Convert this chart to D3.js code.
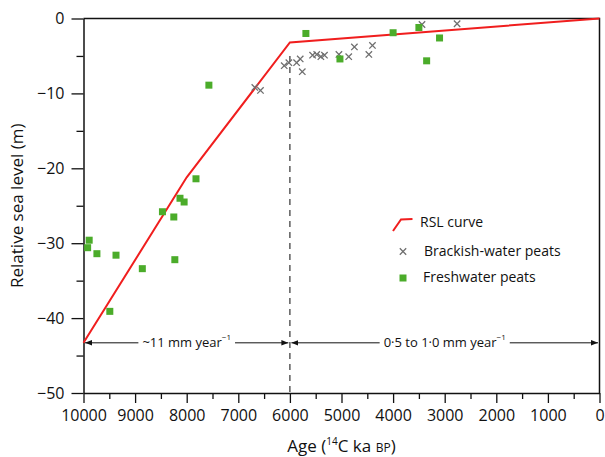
<!DOCTYPE html>
<html>
<head>
<meta charset="utf-8">
<script src="https://cdn.jsdelivr.net/npm/d3@7"></script>
<style>
  body { margin: 0; background: #fff; }
  svg text { font-family: "Open Sans", "Noto Sans", sans-serif; fill: #111; }
</style>
</head>
<body>
<div id="chart"></div>
<script>
// RSL curve vertices
const rslAge = [10000, 8000, 6000, 0];
const rslLevel = [-43.3, -21.2, -3.2, 0];

// Brackish-water peats (crosses)
const brackishAge = [6680, 6570, 6110, 6020, 5870, 5800, 5760, 5560, 5480, 5400, 5330, 5050, 4860, 4750, 4470, 4400, 3440, 2760];
const brackishRsl = [-9.2, -9.6, -6.3, -5.9, -5.9, -5.4, -7.1, -4.9, -4.8, -5.1, -4.9, -4.8, -5.1, -3.8, -4.8, -3.6, -0.8, -0.7];

// Freshwater peats (squares)
const freshAge = [9890, 9920, 9740, 9370, 8860, 8230, 9490, 8470, 8250, 8130, 8050, 7820, 7570, 5690, 5030, 4000, 3500, 3100, 3350];
const freshRsl = [-29.6, -30.6, -31.4, -31.6, -33.4, -32.2, -39.1, -25.8, -26.5, -24.0, -24.5, -21.4, -8.9, -2.0, -5.4, -1.9, -1.2, -2.6, -5.65];

const xMajor = [10000, 9000, 8000, 7000, 6000, 5000, 4000, 3000, 2000, 1000, 0];
const xMinor = [9500, 8500, 7500, 6500, 5500, 4500, 3500, 2500, 1500, 500];
const yMajor = [0, -10, -20, -30, -40, -50];
const yMinor = [-5, -15, -25, -35, -45];

const W = 605, H = 457;
const margin = { top: 18.5, right: 5.5, bottom: 64, left: 83.5 };
const width = W - margin.left - margin.right;
const height = H - margin.top - margin.bottom;

const svg = d3.select("#chart").append("svg")
  .attr("width", W)
  .attr("height", H);

const defs = svg.append("defs");
defs.append("marker")
  .attr("id", "arrow")
  .attr("viewBox", "0 0 10 10")
  .attr("refX", 10).attr("refY", 5)
  .attr("markerWidth", 7).attr("markerHeight", 7)
  .attr("markerUnits", "userSpaceOnUse")
  .attr("orient", "auto-start-reverse")
  .append("path")
  .attr("d", "M0,1 L10,5 L0,9 Z")
  .attr("fill", "#111");

const g = svg.append("g").attr("transform", `translate(${margin.left},${margin.top})`);

const x = d3.scaleLinear().domain([10000, 0]).range([0, width]);
const y = d3.scaleLinear().domain([-50, 0]).range([height, 0]);

const minus = s => String(s).replace("-", "\u2212");

// minor ticks
g.append("g")
  .attr("transform", `translate(0,${height})`)
  .call(d3.axisBottom(x).tickValues(xMinor).tickSize(6).tickFormat(""))
  .call(a => a.select(".domain").remove());
g.append("g")
  .call(d3.axisLeft(y).tickValues(yMinor).tickSize(7).tickFormat(""))
  .call(a => a.select(".domain").remove());

// major ticks with labels
const xAxis = g.append("g")
  .attr("transform", `translate(0,${height})`)
  .call(d3.axisBottom(x).tickValues(xMajor).tickSize(10).tickSizeOuter(0).tickPadding(7).tickFormat(d => d));
xAxis.selectAll("text").attr("font-size", 16).attr("font-family", null);

const yAxis = g.append("g")
  .call(d3.axisLeft(y).tickValues(yMajor).tickSize(12).tickSizeOuter(0).tickPadding(7).tickFormat(minus));
yAxis.selectAll("text").attr("font-size", 16).attr("font-family", null);

g.selectAll(".tick line").attr("stroke", "#111").attr("stroke-width", 1.3);
g.selectAll(".domain").attr("stroke", "#111").attr("stroke-width", 1.5);

// frame top and right
g.append("path")
  .attr("d", `M0,0 H${width} V${height}`)
  .attr("fill", "none")
  .attr("stroke", "#111")
  .attr("stroke-width", 1.5);

// dashed divider at 6000
g.append("line")
  .attr("x1", x(6000)).attr("x2", x(6000))
  .attr("y1", y(-5)).attr("y2", height)
  .attr("stroke", "#333")
  .attr("stroke-width", 1.2)
  .attr("stroke-dasharray", "6,5");

// rate arrows
const arrowY = y(-43.3);
const rates = [
  { from: 10000, to: 6000, label: "~11 mm year", pad: 1.5 },
  { from: 6000, to: 0, label: "0\u00b75 to 1\u00b70 mm year", pad: 1.5 }
];
rates.forEach(r => {
  const x1 = x(r.from) + r.pad, x2 = x(r.to) - r.pad;
  g.append("line")
    .attr("x1", x1).attr("x2", x2)
    .attr("y1", arrowY).attr("y2", arrowY)
    .attr("stroke", "#111")
    .attr("stroke-width", 1)
    .attr("marker-start", "url(#arrow)")
    .attr("marker-end", "url(#arrow)");
  const bg = g.append("rect").attr("fill", "#fff");
  const t = g.append("text")
    .attr("x", (x1 + x2) / 2)
    .attr("y", arrowY + 4.5)
    .attr("text-anchor", "middle")
    .attr("font-size", 13);
  t.append("tspan").text(r.label);
  t.append("tspan").attr("font-size", 8).attr("dy", -7).text("\u22121");
  const bb = t.node().getBBox();
  bg.attr("x", bb.x - 4).attr("y", arrowY - 3).attr("width", bb.width + 8).attr("height", 6);
});

// RSL curve
const rsl = rslAge.map((a, i) => [a, rslLevel[i]]);
g.append("path")
  .datum(rsl)
  .attr("fill", "none")
  .attr("stroke", "#f01e1e")
  .attr("stroke-width", 2)
  .attr("d", d3.line().x(d => x(d[0])).y(d => y(d[1])));

// brackish crosses
const s = 3.2;
g.append("g")
  .selectAll("path")
  .data(brackishAge.map((a, i) => [a, brackishRsl[i]]))
  .enter()
  .append("path")
  .attr("d", d => {
    const cx = x(d[0]), cy = y(d[1]);
    return `M${cx - s},${cy - s}L${cx + s},${cy + s}M${cx - s},${cy + s}L${cx + s},${cy - s}`;
  })
  .attr("stroke", "#6f6f6f")
  .attr("stroke-width", 1.3);

// freshwater squares
const sq = 7;
g.append("g")
  .selectAll("rect")
  .data(freshAge.map((a, i) => [a, freshRsl[i]]))
  .enter()
  .append("rect")
  .attr("x", d => x(d[0]) - sq / 2)
  .attr("y", d => y(d[1]) - sq / 2)
  .attr("width", sq)
  .attr("height", sq)
  .attr("fill", "#4bac2a");

// axis titles
svg.append("text")
  .attr("transform", `translate(23,${margin.top + height / 2}) rotate(-90)`)
  .attr("text-anchor", "middle")
  .attr("font-size", 17)
  .text("Relative sea level (m)");

const xt = svg.append("text")
  .attr("x", margin.left + 258)
  .attr("y", 452)
  .attr("text-anchor", "middle")
  .attr("font-size", 17);
xt.append("tspan").text("Age (");
xt.append("tspan").attr("font-size", 10).attr("dy", -7).text("14");
xt.append("tspan").attr("dy", 7).text("C ka ");
xt.append("tspan").attr("font-size", 12).text("BP");
xt.append("tspan").text(")");

// legend
const legend = svg.append("g").attr("transform", "translate(393,0)");
legend.append("path")
  .attr("d", "M0,231 L8,219.5 L19.5,219")
  .attr("fill", "none")
  .attr("stroke", "#f01e1e")
  .attr("stroke-width", 2);
legend.append("text").attr("x", 27).attr("y", 227).attr("font-size", 14).text("RSL curve");
legend.append("path")
  .attr("d", `M${10 - s},${251.5 - s}L${10 + s},${251.5 + s}M${10 - s},${251.5 + s}L${10 + s},${251.5 - s}`)
  .attr("stroke", "#6f6f6f")
  .attr("stroke-width", 1.3);
legend.append("text").attr("x", 31).attr("y", 256).attr("font-size", 14).text("Brackish-water peats");
legend.append("rect")
  .attr("x", 10 - sq / 2).attr("y", 278 - sq / 2)
  .attr("width", sq).attr("height", sq)
  .attr("fill", "#4bac2a");
legend.append("text").attr("x", 30).attr("y", 282).attr("font-size", 14).text("Freshwater peats");
</script>
</body>
</html>
